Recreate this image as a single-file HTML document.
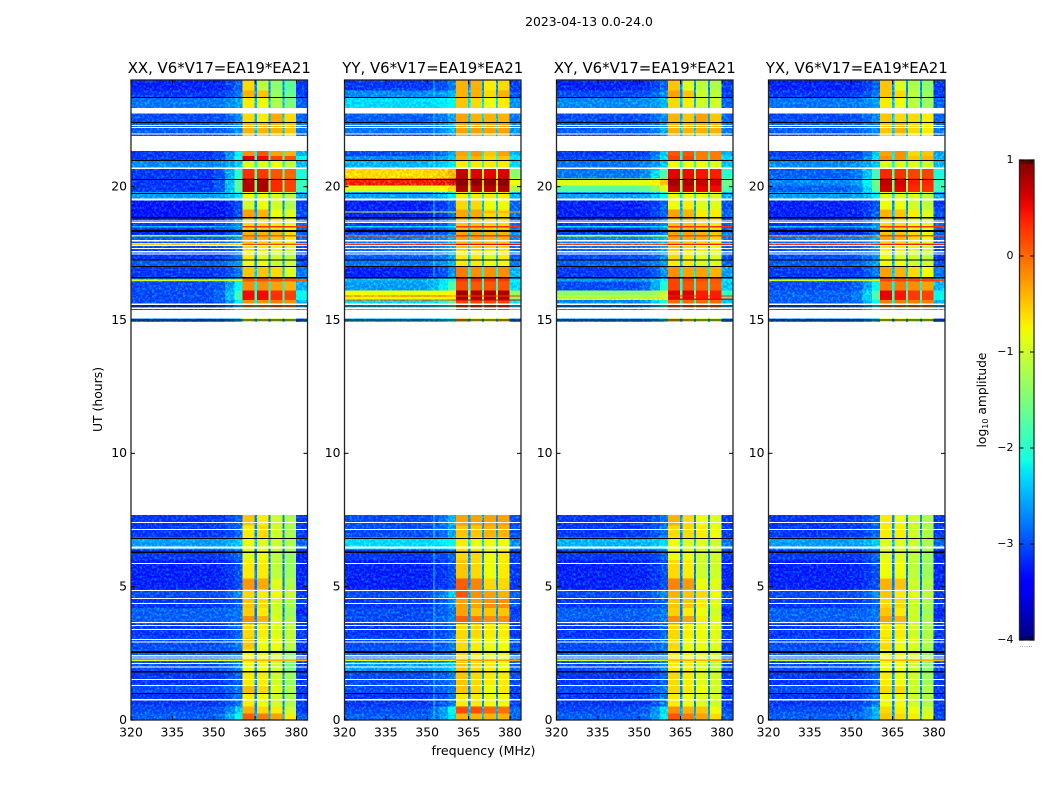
<!DOCTYPE html>
<html>
<head>
<meta charset="utf-8">
<title>2023-04-13 amplitude waterfall</title>
<style>
html,body{margin:0;padding:0;background:#fff;}
#chart{display:block;width:1050px;height:800px;}
text{font-family:"DejaVu Sans","Liberation Sans",sans-serif;fill:#000;}
</style>
</head>
<body>
<svg id="chart" xmlns="http://www.w3.org/2000/svg" width="1050" height="800" viewBox="0 0 1050 800">
  <defs>
    <filter id="grain" x="0" y="0" width="100%" height="100%" color-interpolation-filters="sRGB">
      <feTurbulence type="fractalNoise" baseFrequency="0.42" numOctaves="2" seed="7" result="n"/>
      <feColorMatrix in="n" type="matrix" values="0 0 0 0 0  3 0 0 0 -1.3  0 0 0 0 0  0 0 0 0 1" result="g"/>
      <feComposite in="SourceGraphic" in2="g" operator="arithmetic" k1="0" k2="1" k3="0.4" k4="0" result="m"/>
      <feComposite in="m" in2="SourceAlpha" operator="in"/>
    </filter>
    <linearGradient id="cbar-gradient" x1="0" y1="1" x2="0" y2="0"></linearGradient>
  </defs>
  <text x="589" y="26" font-size="12.4" text-anchor="middle">2023-04-13 0.0-24.0</text>
  <g id="panels"></g>
  <text transform="translate(102,399.5) rotate(-90)" font-size="12.4" text-anchor="middle">UT (hours)</text>
  <text x="483.5" y="755" font-size="12.6" text-anchor="middle">frequency (MHz)</text>
  <g id="colorbar"></g>
  <text transform="translate(986,400) rotate(-90)" font-size="12.3" text-anchor="middle">log<tspan font-size="8" dy="2">10</tspan><tspan dy="-2"> amplitude</tspan></text>
  <text x="1026" y="647" font-size="7" fill="#777" style="fill:#777" text-anchor="middle">......</text>
</svg>
<script>
// ---------- data ----------
const panelTitles = ["XX, V6*V17=EA19*EA21","YY, V6*V17=EA19*EA21","XY, V6*V17=EA19*EA21","YX, V6*V17=EA19*EA21"];
const xTicks = [320,335,350,365,380];
const yTicks = [0,5,10,15,20];
const cbarTicks = [1,0,-1,-2,-3,-4];
const cbarLabels = ["1","0","\u22121","\u22122","\u22123","\u22124"];
const freqLimits = [320,384];
const utLimits = [0,24];
const levelLimits = [-4,1];
// Frequency zones (MHz): low band, bleed-in ramp, four spectral windows, gaps, tail
const zoneEdges = [320,345,350,354,357.5,360.5,364.8,365.6,369.9,370.5,375,375.6,379.8,384];
const rowTops =    [24,23.6,23.35,22.95,22.4,22,21.33,21.15,20.98,20.7,20.3,20.05,19.8,19.52,19.15,18.85,18.4,18.2,17.9,17.6,17.25,17,16.6,16.45,16.1,15.75,15.05,7.69,7.3,6.85,6.4,6,5.3,4.9,4.6,4.2,3.9,3.6,3.1,2.65,2.3,2.18,1.8,1.3,1,0.5,0.25];
const rowBottoms = [23.6,23.35,22.95,22.4,22,21.33,21.15,20.98,20.7,20.3,20.05,19.8,19.52,19.15,18.85,18.4,18.2,17.9,17.6,17.25,17,16.6,16.45,16.1,15.75,15.37,14.93,7.3,6.85,6.4,6,5.3,4.9,4.6,4.2,3.9,3.6,3.1,2.65,2.3,2.18,1.8,1.3,1,0.5,0.25,0];
// Each row: [low band, bleed next to band, spw1, spw2, spw3, spw4, gap] in log10 amplitude
const xxLevels = [
[-3.2,-3.0,-.6,-1.1,-1.4,-1.7,-2.8],[-3.1,-2.9,-.4,-.5,-1.3,-1.6,-2.8],[-2.8,-2.7,-.7,-.8,-1.2,-1.5,-2.6],[-3.0,-2.8,-.6,-.7,-.35,-.6,-2.6],
[-2.9,-2.8,-.4,-.4,-.4,-.5,-2.5],[-3,-2.8,-.6,-.6,-.6,-.7,-2.6],[-3.1,-2.3,-.2,.1,-.3,-.4,-2.2],[-3.1,-2.1,.6,.5,.2,.1,-1.8],
[-2.7,-2.5,-.9,-.9,-.8,-1.1,-2.2],[-3.1,-2,.3,.25,.1,0,-1.7],[-3.1,-1.7,.75,.8,.35,.2,-1.5],[-3.1,-1.7,.75,.8,.35,.2,-1.5],
[-2.6,-2.3,-.8,-.8,-.9,-1.1,-2.3],[-3.3,-3.1,-1,-.8,-1,-1.2,-2.8],[-3.3,-3.1,-.3,-.4,-.8,-.9,-2.7],[-3.1,-2.8,-.6,-.6,-.7,-.8,-2.6],
[-3.2,-3,-.4,-.4,-.4,-.6,-2.6],[-2.9,-2.8,-.3,-.4,-.5,-.7,-2.6],[-3.0,-2.8,-.6,-.7,-.8,-.9,-2.7],[-3.1,-2.9,-.7,-.9,-1,-1.1,-2.8],
[-2.9,-2.7,-.8,-.8,-1,-1,-2.7],[-3.1,-2.9,-.5,-.5,-.6,-.9,-2.5],[-2.5,-2.2,.1,.1,.1,0,-2.2],[-3,-2.2,-.2,-.2,-.3,-.4,-2.2],
[-3,-1.9,.5,.5,.3,.2,-1.8],[-3,-2.3,-.2,-.2,-.1,-.2,-2.2],[-2.8,-2.6,-.9,-.9,-1,-1.1,-2.6],
[-3.1,-3,-.5,-.7,-1,-1.2,-2.8],[-3.1,-3,-.7,-.6,-1,-1.2,-2.8],[-2.6,-2.5,-.8,-.9,-1,-1.2,-2.6],[-3.1,-3,-.9,-.8,-1.1,-1.3,-2.9],
[-3.2,-3.1,-.7,-.7,-1.1,-1.3,-2.9],[-3.2,-3.1,-.25,-.35,-.9,-1.2,-2.9],[-3,-2.8,-.6,-.7,-.8,-1,-2.8],[-3.1,-3,-.5,-.6,-1,-1.2,-2.8],
[-2.9,-2.9,-.55,-.7,-1,-1.3,-2.9],[-2.9,-2.9,-.2,-.4,-.9,-1.2,-2.8],[-3.1,-3,-.6,-.7,-.9,-1.1,-2.8],[-3,-2.9,-.5,-.8,-.8,-1.1,-2.8],
[-2.9,-2.9,-.8,-.8,-1,-1.4,-2.8],[-2.9,-2.9,-.7,-.7,-1,-1.3,-2.6],[-3,-2.8,-.8,-.8,-1,-1.5,-2.8],[-3.1,-3,-.7,-.7,-1,-1.3,-2.8],
[-3,-2.9,-.45,-.6,-.9,-1.2,-2.8],[-3.1,-2.9,-.7,-.8,-1,-1.2,-2.8],[-3,-2.5,-.4,-.6,-.7,-1,-2.8],[-2.9,-2.2,.05,-.1,-.3,-.7,-2.6]];
const yyLevels = [
[-3.1,-2.9,-.4,-.4,-.7,-.6,-2.8],[-2.7,-2.6,-.4,-.4,-.6,-.4,-2.7],[-2.3,-2.2,-.5,-.6,-.8,-.7,-2.4],[-2.9,-2.7,-.3,-.4,-.4,-.4,-2.5],
[-2.8,-2.6,-.3,-.3,-.3,-.3,-2.4],[-3,-2.8,-.4,-.4,-.5,-.5,-2.5],[-3.0,-2.7,-.3,-.25,-.5,-.3,-2.2],[-2.7,-2.5,-.4,-.4,-.6,-.5,-2],
[-2.5,-2.3,-.7,-.7,-.7,-.7,-2],[-.5,-.3,.7,.6,.55,.6,-1],[.5,.6,.95,.95,.9,.95,-.4],[-.9,-.5,.8,.75,.75,.8,-.8],
[-2.6,-2.3,-.7,-.7,-.7,-.7,-2.2],[-3.2,-3,-.6,-.6,-.8,-.8,-2.6],[-3.2,-3,-.35,-.35,-.6,-.6,-2.5],[-3.1,-2.8,-.5,-.5,-.6,-.6,-2.5],
[-3.1,-2.9,-.3,-.3,-.4,-.4,-2.4],[-2.8,-2.6,-.3,-.3,-.4,-.4,-2.4],[-2.8,-2.6,-.5,-.5,-.6,-.6,-2.5],[-2.9,-2.7,-.7,-.7,-.9,-.7,-2.6],
[-2.8,-2.6,-.7,-.7,-.8,-.8,-2.5],[-3.2,-2.8,-.1,-.2,-.2,-.2,-2.2],[-2.5,-2.2,.3,.3,.3,.25,-1.9],[-2.6,-1.8,.15,.1,.1,.1,-2],
[-.8,-.7,.85,.8,.8,.8,-1],[-2.3,-1.7,.2,.2,.2,.2,-1.9],[-2.5,-2.3,-.4,-.7,-.8,-.6,-2.5],
[-3,-2.6,-.3,-.3,-.3,-.3,-2.7],[-3,-2.7,-.5,-.5,-.4,-.4,-2.7],[-2.3,-2.2,-.7,-.8,-.8,-.8,-2.4],[-3.1,-3,-.6,-.6,-.8,-.7,-2.8],
[-3.2,-3.1,-.5,-.6,-.8,-.7,-2.8],[-3.2,-3.1,.05,-.15,-.6,-.6,-2.8],[-3,-2.5,.1,-.2,-.3,-.4,-2.6],[-3.1,-2.8,-.3,-.3,-.2,-.2,-2.7],
[-3,-2.9,-.3,-.5,-.5,-.5,-2.8],[-3,-2.8,.05,-.1,-.2,-.2,-2.7],[-3.1,-3,-.6,-.6,-.7,-.7,-2.8],[-3,-2.9,-.6,-.7,-.8,-.8,-2.7],
[-2.9,-2.9,-.6,-.7,-.9,-.8,-2.6],[-2.9,-2.9,-.7,-.7,-.9,-.9,-2.6],[-2.6,-2.5,-.5,-.6,-.7,-.8,-2.6],[-3,-2.9,-.5,-.6,-.7,-.7,-2.7],
[-3,-2.9,-.5,-.6,-.8,-.7,-2.8],[-3.1,-2.9,-.7,-.7,-.8,-.8,-2.8],[-3,-2.2,.15,.15,.0,-.05,-2.6],[-2.9,-2.4,-.4,-.4,-.4,-.4,-2.6]];
const xyLevels = [
[-3.2,-3,-.5,-.9,-1.1,-1.2,-2.8],[-3,-2.8,-.3,-.5,-1,-1.1,-2.8],[-2.7,-2.6,-.6,-.7,-1,-1,-2.6],[-3,-2.8,-.4,-.5,-.3,-.5,-2.6],
[-2.9,-2.7,-.4,-.4,-.4,-.4,-2.5],[-3,-2.8,-.5,-.5,-.6,-.6,-2.5],[-3.1,-2.5,.1,.1,-.1,-.1,-2.2],[-3,-2.4,.2,.2,-.1,-.1,-2],
[-2.8,-2.5,-.8,-.8,-.8,-.9,-2.1],[-2.8,-1.8,.55,.5,.45,.4,-1.6],[-.9,-.4,.85,.8,.7,.65,-1.2],[-1.6,-.9,.7,.65,.55,.5,-1.4],
[-2.6,-2.2,-.8,-.8,-.8,-.9,-2.2],[-3.2,-3,-.8,-.7,-.9,-.9,-2.7],[-3.2,-3,-.3,-.4,-.7,-.7,-2.6],[-3.1,-2.8,-.5,-.5,-.6,-.7,-2.6],
[-3.1,-2.9,-.3,-.3,-.4,-.5,-2.5],[-2.7,-2.6,-.3,-.35,-.4,-.6,-2.5],[-2.8,-2.6,-.5,-.6,-.7,-.8,-2.6],[-3,-2.8,-.6,-.7,-.9,-.9,-2.7],
[-2.9,-2.7,-.7,-.7,-.9,-.9,-2.6],[-3.1,-2.8,-.2,-.3,-.3,-.4,-2.3],[-2.6,-2.3,.2,.2,.15,.1,-2],[-3,-2.1,.2,.1,.05,.05,-2.1],
[-1.4,-1.1,.6,.6,.4,.4,-1.5],[-2.7,-2,0,0,0,0,-2.1],[-2.7,-2.5,-.5,-.7,-.9,-1,-2.5],
[-3.1,-2.9,-.4,-.6,-.8,-.9,-2.8],[-3.1,-2.9,-.6,-.6,-.7,-.8,-2.8],[-2.5,-2.4,-.8,-.9,-.9,-1,-2.5],[-3.1,-3,-.8,-.8,-1,-1,-2.8],
[-3.2,-3.1,-.6,-.7,-1,-1,-2.9],[-3.2,-3.1,-.15,-.25,-.8,-.9,-2.9],[-3,-2.8,-.4,-.5,-.6,-.8,-2.7],[-3.1,-3,-.5,-.5,-.7,-.9,-2.8],
[-2.9,-2.9,-.55,-.7,-.8,-1,-2.9],[-2.9,-2.9,-.2,-.3,-.7,-.9,-2.8],[-3.1,-3,-.6,-.7,-.8,-.9,-2.8],[-3,-2.9,-.6,-.8,-.8,-.9,-2.8],
[-2.9,-2.9,-.7,-.8,-.9,-1,-2.7],[-2.9,-2.9,-.7,-.7,-.9,-1,-2.6],[-3,-2.8,-.7,-.7,-.9,-1.1,-2.7],[-3.1,-3,-.6,-.7,-.9,-1,-2.8],
[-3,-2.9,-.6,-.7,-.8,-1,-2.8],[-3.1,-2.9,-.7,-.8,-.9,-1,-2.8],[-3,-2.4,-.2,-.4,-.5,-.8,-2.7],[-2.9,-2.3,.1,-.1,-.3,-.6,-2.6]];
const yxLevels = [
[-3.2,-3,-.5,-.9,-1.2,-1.4,-2.8],[-3.1,-2.9,-.5,-.6,-1.1,-1.3,-2.8],[-2.8,-2.7,-.7,-.8,-1.1,-1.3,-2.6],[-3,-2.8,-.5,-.6,-.6,-.7,-2.6],
[-2.9,-2.8,-.5,-.4,-.6,-.7,-2.5],[-3,-2.8,-.6,-.6,-.7,-.8,-2.6],[-3.1,-2.5,-.3,-.2,-.6,-.5,-2.3],[-3,-2.4,-.2,-.2,-.5,-.4,-2.2],
[-2.7,-2.5,-.9,-.9,-.9,-1,-2.2],[-2.9,-1.9,.35,.3,.2,.2,-1.7],[-2.7,-1.6,.75,.65,.4,.35,-1.5],[-2.9,-1.7,.65,.55,.35,.3,-1.5],
[-2.6,-2.3,-.9,-.9,-.9,-1.1,-2.3],[-3.2,-3.1,-.8,-.8,-1,-1.1,-2.8],[-3.2,-3,-.4,-.5,-.7,-.9,-2.7],[-3.1,-2.8,-.6,-.6,-.8,-.9,-2.6],
[-3.2,-3,-.5,-.5,-.6,-.8,-2.6],[-2.8,-2.7,-.35,-.4,-.6,-.8,-2.6],[-2.9,-2.7,-.7,-.7,-.9,-1,-2.7],[-3,-2.8,-.8,-.9,-1,-1.1,-2.8],
[-2.9,-2.7,-.8,-.8,-1,-1,-2.7],[-3.1,-2.9,-.3,-.4,-.6,-.8,-2.5],[-2.6,-2.3,.1,.1,.1,.1,-2.2],[-3,-2.2,-.1,-.1,-.2,-.3,-2.2],
[-2.9,-1.8,.55,.45,.25,.2,-1.8],[-2.9,-2.2,-.1,-.1,-.1,-.1,-2.2],[-2.8,-2.6,-.8,-.8,-1,-1,-2.6],
[-3.1,-3,-.7,-.8,-1,-1.2,-2.8],[-3.1,-3,-.7,-.7,-1,-1.2,-2.8],[-2.6,-2.5,-.9,-.9,-1,-1.2,-2.6],[-3.1,-3,-.9,-.9,-1.1,-1.3,-2.9],
[-3.2,-3.1,-.8,-.8,-1.1,-1.3,-2.9],[-3.2,-3.1,-.4,-.5,-1,-1.2,-2.9],[-3,-2.8,-.5,-.7,-.9,-1.1,-2.8],[-3.1,-3,-.6,-.6,-1,-1.2,-2.8],
[-2.9,-2.9,-.5,-.7,-1,-1.3,-2.9],[-2.9,-2.9,-.3,-.4,-1,-1.2,-2.8],[-3.1,-3,-.7,-.7,-1,-1.2,-2.8],[-3,-2.9,-.6,-.8,-.9,-1.2,-2.8],
[-2.9,-2.9,-.8,-.8,-1,-1.3,-2.8],[-2.9,-2.9,-.8,-.8,-1,-1.3,-2.6],[-3,-2.8,-.8,-.8,-1,-1.4,-2.8],[-3.1,-3,-.7,-.8,-1,-1.3,-2.8],
[-3,-2.9,-.6,-.6,-1,-1.2,-2.8],[-3.1,-2.9,-.8,-.8,-1,-1.2,-2.8],[-3,-2.6,-.6,-.7,-.8,-1,-2.8],[-2.9,-2.6,-.5,-.6,-.7,-.9,-2.7]];
const panelLevels = [xxLevels,yyLevels,xyLevels,yxLevels];
// Narrow full-width interference lines: [UT, low-band level, window level]
const xxLines = [[18.16,-1.2,.1],[17.84,-.4,.2],[16.49,-1,.1],[2.24,-.9,-.4],[18.5,-2.6,.3]];
const yyLines = [[18.16,.2,.3],[17.84,.4,.5],[15.9,.2,.3],[15.75,.3,.6],[2.24,-.7,-.3],[18.5,-2.4,.3],[19.05,-1,-.3]];
const xyLines = [[18.16,-.8,.2],[17.84,.3,.4],[15.9,-.9,.4],[15.78,-.6,.5],[2.24,-1,-.4],[18.5,-2.4,.3]];
const yxLines = [[18.16,0,.2],[17.84,.4,.4],[16.49,-1,.2],[2.24,-1,-.4],[18.5,-2.6,.3]];
const panelLines = [xxLines,yyLines,xyLines,yxLines];
// Faint vertical interference: [MHz, level]
const panelSpurs = [[],[[352.2,-2.3]],[],[]];
// Blank (no data) UT ranges: [top, bottom]
const blankRanges = [[24.5,24],[22.95,22.75],[22.32,22.28],[22.24,22.2],[21.99,21.95],[21.9,21.33],[20.72,20.67],[19.56,19.48],[18.73,18.69],[18.67,18.63],[18,17.95],[17.88,17.86],[17.82,17.78],[17.7,17.66],[17.58,17.54],[17.49,17.45],[15.61,15.57],[15.46,15.42],[15.37,15.05],[14.93,7.69],
[7.43,7.39],[7.17,7.13],[6.5,6.43],[5.89,5.85],[4.88,4.84],[4.57,4.53],[4.39,4.35],[3.67,3.63],[3.56,3.52],[3.42,3.38],[3.04,3],[2.94,2.9],[2.43,2.39],[2.34,2.3],[2.14,2.1],[2.01,1.97],[1.54,1.5],[1.32,1.28],[0.78,0.74]];
// Flagged-to-black UT ranges: [top, bottom]
const flaggedRanges = [[23.37,23.33],[22.42,22.38],[21,20.96],[20.29,20.25],[19.77,19.73],[18.87,18.8],[18.37,18.3],[17.27,17.23],[17.02,16.98],[16.62,16.55],[15.54,15.5],[15.02,14.98],[6.83,6.79],[6.31,6.27],[2.59,2.52],[1.83,1.79],[1.02,0.98]];
// ---------- layout ----------
const panelLefts = [131,344.5,556.5,768.5];
const panelWidth = 176.5;
const plotTop = 80, plotBottom = 720;
const cbarLeft = 1019.5, cbarRight = 1034, cbarTop = 160, cbarBottom = 640;
const NS = "http://www.w3.org/2000/svg";
const panelsRoot = document.getElementById("panels");
function xScale(mhz, left){ return left + (mhz - freqLimits[0]) / (freqLimits[1] - freqLimits[0]) * panelWidth; }
function yScale(ut){ return plotBottom - (ut - utLimits[0]) / (utLimits[1] - utLimits[0]) * (plotBottom - plotTop); }
function cScale(v){ return cbarBottom - (v - levelLimits[0]) / (levelLimits[1] - levelLimits[0]) * (cbarBottom - cbarTop); }
function piece(t, pts){
  for (let i = 1; i < pts.length; i++) {
    if (t <= pts[i][0]) {
      const a = pts[i-1], b = pts[i];
      return a[1] + (t - a[0]) / (b[0] - a[0]) * (b[1] - a[1]);
    }
  }
  return pts[pts.length-1][1];
}
function jet(v){
  const t = Math.max(0, Math.min(1, (v - levelLimits[0]) / (levelLimits[1] - levelLimits[0])));
  const r = piece(t, [[0,0],[.35,0],[.66,1],[.89,1],[1,.5]]);
  const g = piece(t, [[0,0],[.125,0],[.375,1],[.64,1],[.91,0],[1,0]]);
  const b = piece(t, [[0,.5],[.11,1],[.34,1],[.65,0],[1,0]]);
  return "rgb(" + Math.round(r*255) + "," + Math.round(g*255) + "," + Math.round(b*255) + ")";
}
// value for zone index z from a row of levels
function zoneLevel(row, z){
  const low = row[0] < -1.5 ? row[0] - .12 : row[0];
  const bleed = row[1], gap = row[6];
  const table = [low, low, low + (bleed-low)*.1, low + (bleed-low)*.45, bleed, row[2], gap, row[3], gap, row[4], gap, row[5], gap - .4];
  return table[z];
}
function isWindowZone(z){ return z === 5 || z === 7 || z === 9 || z === 11; }
function makeRect(parent, x, y, w, h, fill){
  const r = document.createElementNS(NS, "rect");
  r.setAttribute("x", x);
  r.setAttribute("y", y);
  r.setAttribute("width", w);
  r.setAttribute("height", h);
  r.setAttribute("fill", fill);
  parent.appendChild(r);
  return r;
}
function makeLine(parent, x1, y1, x2, y2){
  const l = document.createElementNS(NS, "line");
  l.setAttribute("x1", x1);
  l.setAttribute("y1", y1);
  l.setAttribute("x2", x2);
  l.setAttribute("y2", y2);
  l.setAttribute("stroke", "#000");
  l.setAttribute("stroke-width", "1");
  parent.appendChild(l);
  return l;
}
function makeText(parent, x, y, str, anchor, size){
  const t = document.createElementNS(NS, "text");
  t.setAttribute("x", x);
  t.setAttribute("y", y);
  t.setAttribute("text-anchor", anchor);
  t.setAttribute("font-size", size);
  t.textContent = str;
  parent.appendChild(t);
  return t;
}
panelTitles.forEach(function(title, p){
  const left = panelLefts[p], right = left + panelWidth;
  const panel = document.createElementNS(NS, "g");
  
  
  panelsRoot.appendChild(panel);
  const cells = document.createElementNS(NS, "g");
  
  
  cells.setAttribute("filter", "url(#grain)");
  cells.setAttribute("shape-rendering", "crispEdges");
  panel.appendChild(cells);
  const windowCells = document.createElementNS(NS, "g");
  
  
  windowCells.setAttribute("shape-rendering", "crispEdges");
  panel.appendChild(windowCells);
  panelLevels[p].forEach(function(row, i){
    const y1 = yScale(rowTops[i]), y2 = yScale(rowBottoms[i]);
    for (let z = 0; z < zoneEdges.length - 1; z++) {
      const x1 = xScale(zoneEdges[z], left), x2 = xScale(zoneEdges[z+1], left);
      const cell = makeRect(isWindowZone(z) ? windowCells : cells, x1, y1, x2 - x1, y2 - y1, jet(zoneLevel(row, z)));
      
      
    }
    panelSpurs[p].forEach(function(sp){
      if (zoneLevel(row, 0) < sp[1]) {
        const spur = makeRect(cells, xScale(sp[0], left), y1, 1, y2 - y1, jet(sp[1]));
        
        
      }
    });
  });
  panelLines[p].forEach(function(ln){
    const y = yScale(ln[0]);
    const lowPart = makeRect(cells, left, y - .6, xScale(zoneEdges[5], left) - left, 1.2, jet(ln[1]));
    
    
    const highPart = makeRect(windowCells, xScale(zoneEdges[5], left), y - .6, right - xScale(zoneEdges[5], left), 1.2, jet(ln[2]));
    
    
  });
  const masks = document.createElementNS(NS, "g");
  
  
  masks.setAttribute("shape-rendering", "crispEdges");
  panel.appendChild(masks);
  blankRanges.forEach(function(b){
    const m = makeRect(masks, left, yScale(b[0]), panelWidth, yScale(b[1]) - yScale(b[0]), "#fff");
    
    
  });
  flaggedRanges.forEach(function(b){
    const m = makeRect(masks, left, yScale(b[0]), panelWidth, Math.max(1, yScale(b[1]) - yScale(b[0])), "#000");
    
    
  });
  const frame = makeRect(panel, left, plotTop, panelWidth, plotBottom - plotTop, "none");
  frame.setAttribute("stroke", "#222");
  frame.setAttribute("stroke-width", "1.3");
  
  
  xTicks.forEach(function(v){
    const x = xScale(v, left);
    const tb = makeLine(panel, x, plotBottom, x, plotBottom - 4);
    
    
    const tt = makeLine(panel, x, plotTop, x, plotTop + 4);
    
    
    const lab = makeText(panel, x, plotBottom + 16.5, String(v), "middle", 12.4);
    
    
  });
  yTicks.forEach(function(v){
    const y = yScale(v);
    const tl = makeLine(panel, left, y, left + 4, y);
    
    
    const tr = makeLine(panel, right, y, right - 4, y);
    
    
    const lab = makeText(panel, left - 4, y + 3.8, String(v), "end", 12.4);
    
    
  });
  const ttl = makeText(panel, left + panelWidth / 2, plotTop - 7, title, "middle", 14.9);
  
  
});
// ---------- colorbar ----------
const grad = document.getElementById("cbar-gradient");
for (let i = 0; i <= 40; i++) {
  const st = document.createElementNS(NS, "stop");
  st.setAttribute("offset", (i / 40));
  st.setAttribute("stop-color", jet(levelLimits[0] + (levelLimits[1] - levelLimits[0]) * i / 40));
  grad.appendChild(st);
}
const cb = document.getElementById("colorbar");
const cbRect = makeRect(cb, cbarLeft, cbarTop, cbarRight - cbarLeft, cbarBottom - cbarTop, "url(#cbar-gradient)");
cbRect.setAttribute("stroke", "#222");
cbRect.setAttribute("stroke-width", "1.3");


cbarTicks.forEach(function(v, i){
  const y = cScale(v);
  const a = makeLine(cb, cbarLeft, y, cbarLeft + 4, y);
  
  
  const b = makeLine(cb, cbarRight, y, cbarRight - 4, y);
  
  
  const lab = makeText(cb, cbarLeft - 6, y + 3, cbarLabels[i], "end", 11);
  
  
});
for (let k = 1; k <= 6; k++) {
  const x = cbarLeft + k * (cbarRight - cbarLeft) / 7;
  const topTick = makeLine(cb, x, cbarTop, x, cbarTop + 4);
  
  
  const bottomTick = makeLine(cb, x, cbarBottom, x, cbarBottom - 4);
  
  
}
</script>
</body>
</html>
